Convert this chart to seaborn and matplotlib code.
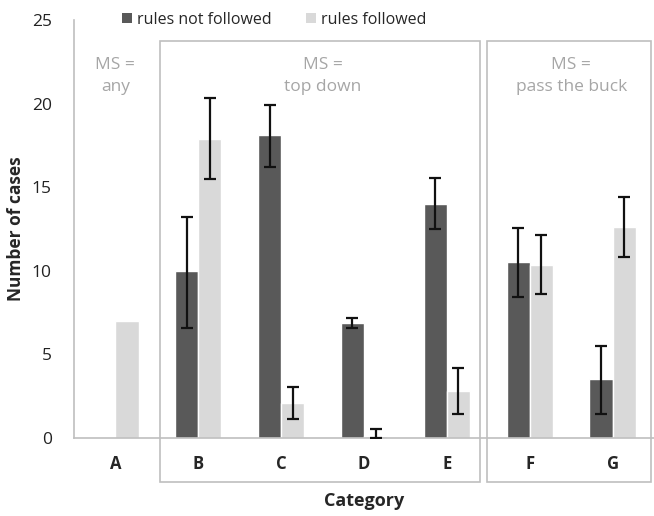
import numpy as np
import pandas as pd
import seaborn as sns
import matplotlib.pyplot as plt
from matplotlib.patches import Rectangle, Patch
from matplotlib.transforms import blended_transform_factory

# Values
categories = ['A', 'B', 'C', 'D', 'E', 'F', 'G']
not_followed = [0, 10.0, 18.1, 6.9, 14.0, 10.5, 3.5]
nf_low = [np.nan, 6.6, 16.2, 6.6, 12.5, 8.45, 1.45]
nf_high = [np.nan, 13.2, 19.9, 7.2, 15.55, 12.55, 5.5]
followed = [7.0, 17.9, 2.1, 0.1, 2.8, 10.35, 12.6]
f_low = [np.nan, 15.5, 1.15, 0.0, 1.45, 8.6, 10.85]
f_high = [np.nan, 20.35, 3.05, 0.55, 4.2, 12.15, 14.4]
series = ['rules not followed', 'rules followed']
groups = [('MS =\nany', None), ('MS =\ntop down', (0.54, 4.40)), ('MS =\npass the buck', (4.49, 6.46))]
group_text_x = [0, 2.5, 5.5]

df = pd.DataFrame({
    'Category': categories * 2,
    'Number of cases': not_followed + followed,
    'series': [series[0]] * 7 + [series[1]] * 7,
})

sns.set_style('white')
plt.rcParams['font.family'] = ['Open Sans', 'DejaVu Sans']

colors = ['#595959', '#d9d9d9']
grey = '#bfbfbf'

fig = plt.figure(figsize=(6.54, 5.16), dpi=100)
ax = fig.add_axes([74 / 654, 1 - 438 / 516, 580 / 654, 418 / 516])

sns.barplot(data=df, x='Category', y='Number of cases', hue='series',
            palette=colors, width=0.56, gap=0, saturation=1, ax=ax, legend=False)

# error bars
for cont, vals, lo, hi in zip(ax.containers, [not_followed, followed],
                              [nf_low, f_low], [nf_high, f_high]):
    xs = [p.get_x() + p.get_width() / 2 for p in cont.patches]
    v = np.array(vals, float)
    yerr = np.vstack([v - np.array(lo), np.array(hi) - v])
    ax.errorbar(xs, v, yerr=yerr, fmt='none', ecolor='#111111',
                elinewidth=1.6, capsize=4, capthick=1.6, zorder=5)

ax.set_ylim(0, 25)
ax.set_xlim(-0.5, 6.5)
ax.set_yticks([0, 5, 10, 15, 20, 25])
ax.set_xticks(np.arange(0.5, 7, 1), minor=True)
ax.tick_params(axis='x', which='major', length=0, pad=12, labelsize=12)
ax.tick_params(axis='x', which='minor', length=5, color=grey, width=1)
ax.tick_params(axis='y', length=5, color=grey, width=1, labelsize=12.5,
               pad=11, labelcolor='#222222')
for lab in ax.get_xticklabels():
    lab.set_fontweight('bold')

for s in ['top', 'right']:
    ax.spines[s].set_visible(False)
for s in ['left', 'bottom']:
    ax.spines[s].set_color(grey)
    ax.spines[s].set_linewidth(1.2)

ax.set_xlabel('Category', fontsize=13, fontweight='bold', labelpad=14)
ax.set_ylabel('Number of cases', fontsize=12.5, fontweight='bold', labelpad=5)

# group boxes and labels
trans = blended_transform_factory(ax.transData, ax.transAxes)
for (txt, span), tx in zip(groups, group_text_x):
    if span is not None:
        ax.add_patch(Rectangle((span[0], -0.105), span[1] - span[0], 1.055,
                               transform=trans, fill=False, edgecolor=grey,
                               linewidth=1.2, clip_on=False, zorder=0))
    ax.text(tx, 0.866, txt, transform=trans, ha='center', va='center',
            color='#a6a6a6', fontsize=12.5, linespacing=1.45)

handles = [Patch(facecolor=c, edgecolor='none') for c in colors]
ax.legend(handles, series, loc='center', bbox_to_anchor=(0.345, 1.0), ncol=2,
          frameon=False, fontsize=11.5, handlelength=0.6, handleheight=0.6,
          handletextpad=0.3, columnspacing=2.2)

fig.savefig('out.png', dpi=100)
